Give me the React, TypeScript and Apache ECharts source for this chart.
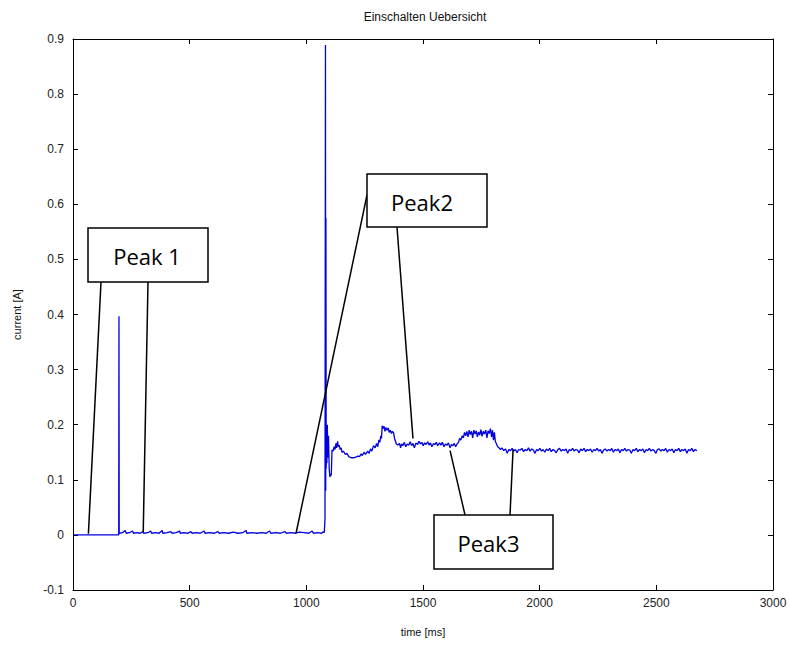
import React, { useEffect, useRef } from "react";
import * as echarts from "echarts";

// Switch-on current trace: [time in ms, current in A]
const idleTrace: [number, number][] = [
  [0, 0], [196, 0], [197, 0.397], [198, 0.003],
  [212, 0.004], [224, 0.008], [228, 0.003], [242, 0.004], [255, 0.007], [259, 0.003],
  [273, 0.004], [288, 0.003], [300, 0.006], [303, 0.003], [321, 0.004], [333, 0.007],
  [337, 0.003], [354, 0.004], [369, 0.003], [382, 0.008], [385, 0.003], [404, 0.004],
  [419, 0.006], [424, 0.003], [442, 0.004], [457, 0.007], [460, 0.003], [475, 0.004],
  [493, 0.003], [505, 0.006], [510, 0.003], [530, 0.004], [545, 0.003], [562, 0.007],
  [566, 0.003], [586, 0.004], [606, 0.003], [621, 0.006], [626, 0.003], [646, 0.004],
  [667, 0.003], [687, 0.005], [707, 0.003], [727, 0.004], [742, 0.008], [745, 0.003],
  [768, 0.004], [788, 0.003], [808, 0.004], [828, 0.003], [843, 0.007], [848, 0.003],
  [869, 0.004], [889, 0.003], [909, 0.006], [914, 0.003], [934, 0.004], [954, 0.003],
  [970, 0.005], [990, 0.004], [1010, 0.003], [1025, 0.007], [1030, 0.003], [1050, 0.004],
  [1066, 0.003], [1073, 0.006],
];

const inrushTrace: [number, number][] = [
  [1077, 0.004], [1080, 0.03], [1082, 0.889], [1083, 0.08], [1084, 0.575], [1085, 0.12],
  [1086, 0.2], [1088, 0.13], [1090, 0.2], [1092, 0.14], [1095, 0.18], [1098, 0.12],
  [1101, 0.105], [1104, 0.11], [1107, 0.108], [1110, 0.154], [1115, 0.152], [1119, 0.16],
  [1123, 0.155], [1127, 0.166], [1130, 0.158], [1134, 0.17], [1137, 0.16], [1141, 0.163],
  [1145, 0.155], [1149, 0.158], [1153, 0.15], [1159, 0.152], [1167, 0.146], [1174, 0.148],
  [1182, 0.142], [1192, 0.14], [1202, 0.14], [1212, 0.141], [1220, 0.143], [1228, 0.142],
  [1235, 0.147], [1240, 0.144], [1247, 0.15], [1254, 0.146], [1263, 0.152], [1269, 0.148],
  [1275, 0.156], [1281, 0.152], [1288, 0.162], [1295, 0.158], [1301, 0.166], [1306, 0.16],
  [1311, 0.172], [1315, 0.168], [1319, 0.18], [1322, 0.175], [1325, 0.198], [1329, 0.193],
  [1333, 0.197], [1337, 0.188], [1341, 0.195], [1346, 0.19], [1351, 0.194], [1355, 0.186],
  [1360, 0.19], [1365, 0.184], [1369, 0.188], [1374, 0.185], [1378, 0.175], [1382, 0.17],
  [1386, 0.165],
];

const plateauTrace: [number, number][] = [
  [1392, 0.163], [1399, 0.166], [1404, 0.158], [1408, 0.165], [1414, 0.162], [1420, 0.168],
  [1426, 0.16], [1432, 0.165], [1439, 0.163], [1445, 0.169], [1451, 0.162], [1457, 0.166],
  [1463, 0.158], [1470, 0.167], [1477, 0.164], [1483, 0.17], [1489, 0.165], [1495, 0.168],
  [1501, 0.162], [1507, 0.167], [1513, 0.164], [1520, 0.169], [1526, 0.163], [1532, 0.167],
  [1538, 0.16], [1545, 0.166], [1551, 0.164], [1557, 0.168], [1563, 0.162], [1571, 0.167],
  [1577, 0.163], [1583, 0.168], [1590, 0.16], [1596, 0.165], [1603, 0.163], [1609, 0.167],
  [1616, 0.158], [1622, 0.164], [1628, 0.162], [1634, 0.166], [1640, 0.16], [1646, 0.165],
  [1652, 0.168], [1657, 0.175], [1662, 0.172], [1668, 0.18], [1673, 0.176], [1678, 0.186],
  [1683, 0.18], [1688, 0.188], [1693, 0.178], [1698, 0.19], [1703, 0.182], [1708, 0.188],
  [1713, 0.176], [1718, 0.19], [1723, 0.183], [1728, 0.189], [1733, 0.178], [1738, 0.187],
  [1743, 0.181], [1748, 0.191], [1753, 0.179], [1758, 0.188], [1763, 0.183], [1769, 0.19],
  [1774, 0.176], [1779, 0.189], [1784, 0.184], [1789, 0.193], [1794, 0.178], [1798, 0.19],
  [1802, 0.172], [1806, 0.186], [1810, 0.17], [1815, 0.165], [1820, 0.16], [1826, 0.158],
  [1832, 0.155], [1838, 0.158], [1846, 0.153],
];

const steadyTrace: [number, number][] = [
  [1854, 0.156], [1861, 0.148], [1868, 0.155], [1875, 0.153], [1882, 0.157], [1889, 0.152],
  [1896, 0.155], [1903, 0.149], [1910, 0.155], [1917, 0.154], [1924, 0.157], [1931, 0.151],
  [1938, 0.155], [1945, 0.153], [1952, 0.158], [1959, 0.152], [1966, 0.156], [1973, 0.154],
  [1980, 0.148], [1987, 0.155], [1994, 0.153], [2001, 0.157], [2008, 0.152], [2015, 0.155],
  [2022, 0.15], [2029, 0.156], [2036, 0.153], [2043, 0.157], [2050, 0.151], [2057, 0.155],
  [2064, 0.153], [2071, 0.149], [2078, 0.155], [2085, 0.157], [2092, 0.152], [2099, 0.155],
  [2106, 0.153], [2113, 0.156], [2120, 0.148], [2127, 0.155], [2134, 0.153], [2141, 0.157],
  [2148, 0.152], [2155, 0.155], [2162, 0.154], [2169, 0.149], [2176, 0.156], [2183, 0.153],
  [2190, 0.157], [2197, 0.151], [2204, 0.155], [2211, 0.153], [2218, 0.156], [2225, 0.15],
  [2232, 0.155], [2239, 0.153], [2246, 0.157], [2253, 0.152], [2260, 0.155], [2267, 0.148],
  [2274, 0.154], [2281, 0.156], [2288, 0.152], [2295, 0.155], [2302, 0.153], [2309, 0.157],
  [2316, 0.15], [2323, 0.155], [2330, 0.153], [2337, 0.156], [2344, 0.149], [2351, 0.155],
  [2358, 0.153], [2365, 0.157], [2372, 0.152], [2379, 0.155], [2386, 0.154], [2393, 0.148],
  [2400, 0.155], [2407, 0.153], [2414, 0.157], [2421, 0.151], [2428, 0.155], [2435, 0.153],
  [2442, 0.156], [2449, 0.149], [2456, 0.155], [2463, 0.153], [2470, 0.157], [2477, 0.152],
  [2484, 0.155], [2491, 0.153], [2498, 0.148], [2505, 0.155], [2512, 0.156], [2519, 0.152],
  [2526, 0.155], [2533, 0.153], [2540, 0.157], [2547, 0.15], [2554, 0.155], [2561, 0.153],
  [2568, 0.156], [2575, 0.149], [2582, 0.155], [2589, 0.153], [2596, 0.157], [2603, 0.151],
  [2610, 0.155], [2617, 0.153], [2624, 0.156], [2631, 0.148], [2638, 0.155], [2645, 0.153],
  [2652, 0.157], [2659, 0.151], [2666, 0.155], [2674, 0.153],
];

// Callout labels and the trace points each pair of leader lines points to
const calloutLabels = ["Peak 1", "Peak2", "Peak3"];
const calloutTargets: [number, number][][] = [
  [[66, 0.002], [301, 0.005]],
  [[956, 0.003], [1457, 0.175]],
  [[1616, 0.153], [1886, 0.155]],
];

const FONT = "'Liberation Sans', Arial, sans-serif";
const BOX_FONT = "'Open Sans', 'Noto Sans', sans-serif";

export default function App() {
  const ref = useRef<HTMLDivElement>(null);

  useEffect(() => {
    if (!ref.current) return;
    const chart = echarts.init(ref.current, undefined, { renderer: "svg" });
    const trace = [...idleTrace, ...inrushTrace, ...plateauTrace, ...steadyTrace];

    const axisLine = { show: true, onZero: false, lineStyle: { color: "#000", width: 1 } };
    const tick = { show: true, inside: true, length: 5, lineStyle: { color: "#000" } };
    const labelStyle = { fontFamily: FONT, fontSize: 12, color: "#222" };

    chart.setOption({
      animation: false,
      backgroundColor: "#fff",
      grid: { left: 73, top: 39, width: 700, height: 551, containLabel: false },
      xAxis: [
        {
          type: "value",
          min: 0,
          max: 3000,
          interval: 500,
          name: "time [ms]",
          nameLocation: "middle",
          nameGap: 36,
          nameTextStyle: { fontFamily: FONT, fontSize: 11, color: "#111" },
          axisLine,
          axisTick: tick,
          axisLabel: { ...labelStyle, margin: 7, formatter: (v: number) => String(v) },
          splitLine: { show: false },
        },
        {
          type: "value",
          position: "top",
          min: 0,
          max: 3000,
          interval: 500,
          axisLine,
          axisTick: tick,
          axisLabel: { show: false },
          splitLine: { show: false },
        },
      ],
      yAxis: [
        {
          type: "value",
          min: -0.1,
          max: 0.9,
          interval: 0.1,
          name: "current [A]",
          nameLocation: "middle",
          nameGap: 51,
          nameRotate: 90,
          nameTextStyle: { fontFamily: FONT, fontSize: 11, color: "#111" },
          axisLine,
          axisTick: tick,
          axisLabel: {
            ...labelStyle,
            margin: 9,
            formatter: (v: number) => (Math.abs(v) < 1e-9 ? "0" : v.toFixed(1)),
          },
          splitLine: { show: false },
        },
        {
          type: "value",
          position: "right",
          min: -0.1,
          max: 0.9,
          interval: 0.1,
          axisLine,
          axisTick: tick,
          axisLabel: { show: false },
          splitLine: { show: false },
        },
      ],
      series: [
        {
          type: "line",
          data: trace,
          showSymbol: false,
          symbol: "none",
          lineStyle: { color: "#0000e0", width: 1.3 },
          z: 2,
        },
      ],
    });

    // Box rectangles [x, y, width, height], text offset, and where each leader line leaves its box
    const boxes = [
      [88, 228, 120, 54],
      [367, 174, 120, 53],
      [434, 515, 119, 54],
    ];
    const textShift = [-1, -5, -5];
    const anchors: [number, number][][] = [
      [[101, 282], [148, 282]],
      [[367, 195], [397, 227]],
      [[465, 515], [510, 515]],
    ];

    const elements: any[] = [
      {
        type: "text",
        x: 425,
        y: 17,
        z: 12,
        style: {
          text: "Einschalten Uebersicht",
          fontFamily: FONT,
          fontSize: 12,
          fill: "#111",
          align: "center",
          verticalAlign: "middle",
        },
      },
    ];
    calloutLabels.forEach((label, i) => {
      calloutTargets[i].forEach((target, j) => {
        const p = chart.convertToPixel({ gridIndex: 0 }, target) as number[];
        elements.push({
          type: "line",
          z: 10,
          shape: { x1: anchors[i][j][0], y1: anchors[i][j][1], x2: p[0], y2: p[1] },
          style: { stroke: "#000", lineWidth: 1.5 },
        });
      });
      const [bx, by, bw, bh] = boxes[i];
      elements.push({
        type: "rect",
        z: 11,
        shape: { x: bx, y: by, width: bw, height: bh },
        style: { fill: "#fff", stroke: "#000", lineWidth: 1.5 },
      });
      elements.push({
        type: "text",
        z: 12,
        x: bx + bw / 2 + textShift[i],
        y: by + bh / 2 + 1,
        style: {
          text: label,
          fontFamily: BOX_FONT,
          fontSize: 22,
          fill: "#000",
          align: "center",
          verticalAlign: "middle",
        },
      });
    });
    chart.setOption({ graphic: elements });

    return () => chart.dispose();
  }, []);

  return (
    <div
      ref={ref}
      style={{ position: "absolute", left: 0, top: 0, width: 790, height: 648 }}
    />
  );
}
